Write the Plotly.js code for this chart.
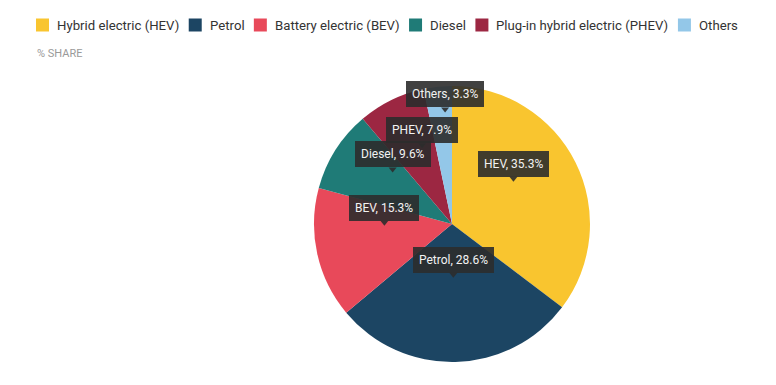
<!DOCTYPE html>
<html>
<head>
<meta charset="utf-8">
<script src="https://cdn.plot.ly/plotly-3.0.1.min.js"></script>
<style>
  html, body { margin: 0; padding: 0; background: #ffffff; }
  #chart { width: 776px; height: 385px; }
</style>
</head>
<body>
<div id="chart"></div>
<script>
// ---- data ----
const categories = ['Hybrid electric (HEV)', 'Petrol', 'Battery electric (BEV)', 'Diesel', 'Plug-in hybrid electric (PHEV)', 'Others'];
const shortNames = ['HEV', 'Petrol', 'BEV', 'Diesel', 'PHEV', 'Others'];
const shares = [35.3, 28.6, 15.3, 9.6, 7.9, 3.3];
const subtitle = '% SHARE';

// ---- style ----
const colors = ['#F9C52F', '#1C4563', '#E8495A', '#1F7B77', '#9C2742', '#93C7E8'];
const W = 776, H = 385;
const cx = 452, cy = 224, R = 138;           // pie centre / radius in px
const labelRadius = [0.54, 0.39, 0.49, 0.57, 0.59, 0.81];
const labelAngleNudge = [-8, 0, 11, 8.6, 4.6, 2.4];
const boxColor = 'rgba(44,44,44,0.9)';
const legendFontSize = 13.2;
const legendFont = 'Roboto, sans-serif';

const px = x => x / W;
const py = y => 1 - y / H;

const total = shares.reduce((a, b) => a + b, 0);
let cum = 0;
const annotations = [];
const shapes = [];
shares.forEach((v, i) => {
  const mid = (cum + v / 2) / total * 360 + labelAngleNudge[i];
  cum += v;
  const th = mid * Math.PI / 180;
  const ax = cx + labelRadius[i] * R * Math.sin(th);
  const ay = cy - labelRadius[i] * R * Math.cos(th);
  annotations.push({
    xref: 'paper', yref: 'paper', x: px(ax), y: py(ay - 5),
    xanchor: 'center', yanchor: 'bottom',
    text: shortNames[i] + ', ' + v.toFixed(1) + '%',
    showarrow: false, bgcolor: boxColor, borderpad: 6, borderwidth: 0,
    font: { family: 'Roboto, sans-serif', size: 12, color: '#f2f2f2' }
  });
  shapes.push({
    type: 'path', xref: 'paper', yref: 'paper', layer: 'above',
    path: `M ${px(ax - 4)},${py(ay - 5)} L ${px(ax + 4)},${py(ay - 5)} L ${px(ax)},${py(ay)} Z`,
    fillcolor: boxColor, line: { width: 0 }
  });
});

// ---- legend (built from categories + colors) ----
const ctx = document.createElement('canvas').getContext('2d');
ctx.font = legendFontSize + 'px Roboto';
let lx = 36;
const legY = 25, sw = 13;
categories.forEach((c, i) => {
  shapes.push({
    type: 'rect', xref: 'paper', yref: 'paper', layer: 'above',
    x0: px(lx), x1: px(lx + sw), y0: py(legY + sw / 2), y1: py(legY - sw / 2),
    fillcolor: colors[i], line: { width: 0 }
  });
  annotations.push({
    xref: 'paper', yref: 'paper', x: px(lx + 20), y: py(legY), xanchor: 'left', yanchor: 'middle',
    text: c, showarrow: false, borderpad: 0,
    font: { family: legendFont, size: legendFontSize, color: '#333333' }
  });
  lx += 20 + ctx.measureText(c).width + 10.5;
});

annotations.push({
  xref: 'paper', yref: 'paper', x: px(36), y: py(53.5), xanchor: 'left', yanchor: 'middle',
  text: subtitle, showarrow: false, borderpad: 0,
  font: { family: 'Roboto, sans-serif', size: 11, color: '#9a9a9a' }
});

const trace = {
  type: 'pie',
  labels: categories,
  values: shares,
  sort: false,
  direction: 'clockwise',
  rotation: 0,
  marker: { colors: colors, line: { width: 0 } },
  textinfo: 'none',
  hoverinfo: 'skip',
  domain: { x: [px(cx - R), px(cx + R)], y: [py(cy + R), py(cy - R)] }
};

const layout = {
  width: W, height: H,
  margin: { l: 0, r: 0, t: 0, b: 0 },
  paper_bgcolor: '#ffffff',
  showlegend: false,
  annotations: annotations,
  shapes: shapes
};

Plotly.newPlot('chart', [trace], layout, { displayModeBar: false, staticPlot: true });
</script>
</body>
</html>
